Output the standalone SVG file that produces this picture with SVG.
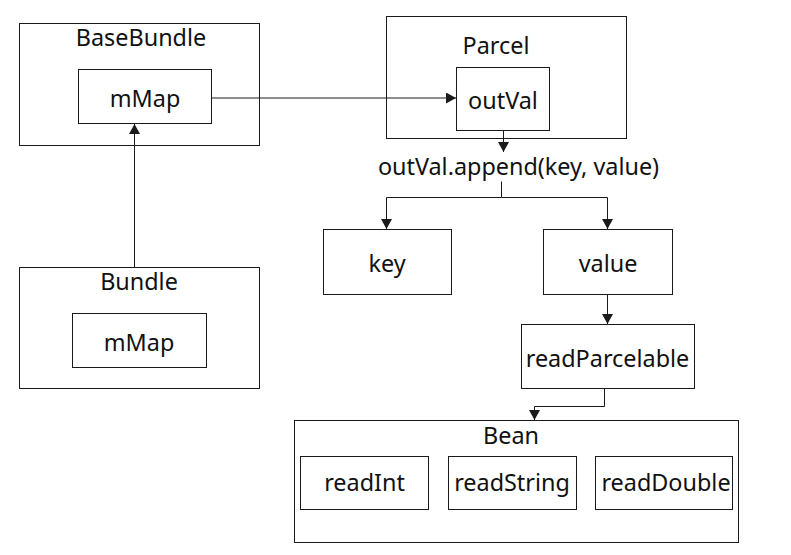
<svg xmlns="http://www.w3.org/2000/svg" width="791" height="555" viewBox="0 0 791 555">
<style>
.box{fill:#fff;stroke:#1a1a1a;stroke-width:1}
.t{font-family:"Noto Sans","Open Sans","Liberation Sans",sans-serif;font-size:23.4px;fill:#111;text-anchor:middle}
.c{fill:none;stroke:#1a1a1a;stroke-width:1}
</style>
<defs>
<marker id="ah" markerUnits="userSpaceOnUse" markerWidth="10" markerHeight="11" refX="10" refY="5.5" orient="auto">
<path d="M0,0 L10,5.5 L0,11 z" fill="#1a1a1a"/>
</marker>
</defs>
<rect width="791" height="555" fill="#fff"/>
<g id="BaseBundle">
<rect class="box" x="19.5" y="23.5" width="240" height="122"/>
<text class="t" x="141" y="46">BaseBundle</text>
<g id="BaseBundle-mMap">
<rect class="box" x="78.5" y="69.5" width="133" height="54"/>
<text class="t" x="145" y="107">mMap</text>
</g>
</g>
<g id="Bundle">
<rect class="box" x="19.5" y="267.5" width="240" height="121"/>
<text class="t" x="139" y="289.5">Bundle</text>
<g id="Bundle-mMap">
<rect class="box" x="72.5" y="313.5" width="134" height="54"/>
<text class="t" x="139" y="351">mMap</text>
</g>
</g>
<g id="Parcel">
<rect class="box" x="386.5" y="16.5" width="240" height="122"/>
<text class="t" x="496" y="54">Parcel</text>
<g id="outVal">
<rect class="box" x="456.5" y="67.5" width="93" height="63"/>
<text class="t" x="503" y="109">outVal</text>
</g>
</g>
<g id="append">
<text class="t" x="518.5" y="175">outVal.append(key, value)</text>
</g>
<g id="key">
<rect class="box" x="323.5" y="229.5" width="128" height="65"/>
<text class="t" x="387" y="272">key</text>
</g>
<g id="value">
<rect class="box" x="543.5" y="229.5" width="129" height="65"/>
<text class="t" x="608" y="272">value</text>
</g>
<g id="readParcelable">
<rect class="box" x="521.5" y="324.5" width="173" height="64"/>
<text class="t" x="607.5" y="367">readParcelable</text>
</g>
<g id="Bean">
<rect class="box" x="294.5" y="420.5" width="444" height="122"/>
<text class="t" x="511" y="444">Bean</text>
<g id="readInt">
<rect class="box" x="300.5" y="456.5" width="128" height="53"/>
<text class="t" x="364.5" y="491">readInt</text>
</g>
<g id="readString">
<rect class="box" x="448.5" y="456.5" width="128" height="53"/>
<text class="t" x="512" y="491">readString</text>
</g>
<g id="readDouble">
<rect class="box" x="595.5" y="456.5" width="137" height="53"/>
<text class="t" x="666" y="491">readDouble</text>
</g>
</g>
<g id="connectors">
<path class="c" d="M211.5,98 L456,98" marker-end="url(#ah)"/>
<path class="c" d="M134.5,267 L134.5,124" marker-end="url(#ah)"/>
<path class="c" d="M503.5,130.5 L503.5,152" marker-end="url(#ah)"/>
<path class="c" d="M501.5,181.5 L501.5,197.5 L386.5,197.5 L386.5,229" marker-end="url(#ah)"/>
<path class="c" d="M501.5,197.5 L607.5,197.5 L607.5,229" marker-end="url(#ah)"/>
<path class="c" d="M607.5,294.5 L607.5,324" marker-end="url(#ah)"/>
<path class="c" d="M604.5,388.5 L604.5,406.5 L534.5,406.5 L534.5,420" marker-end="url(#ah)"/>
</g>
</svg>
